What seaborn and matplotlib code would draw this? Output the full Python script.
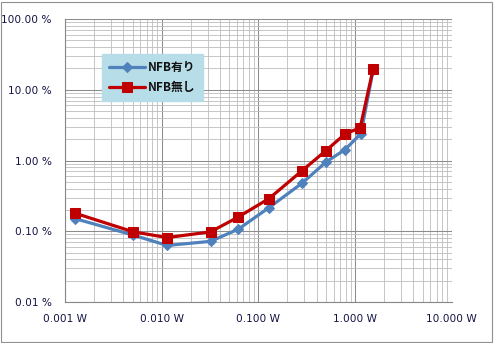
import matplotlib
matplotlib.use("Agg")
import matplotlib.pyplot as plt
from matplotlib.patches import Rectangle
from matplotlib.ticker import LogLocator, FuncFormatter, NullFormatter
import numpy as np
import pandas as pd
import seaborn as sns

# Output power (W) and distortion (%) for each series
power_nfb_on = [0.00127, 0.0051, 0.0114, 0.032, 0.062, 0.129, 0.284, 0.50, 0.79, 1.15, 1.54]
thd_nfb_on = [0.151, 0.088, 0.063, 0.072, 0.107, 0.216, 0.48, 0.95, 1.43, 2.4, 19.0]

power_nfb_off = [0.00127, 0.0051, 0.0114, 0.032, 0.062, 0.129, 0.284, 0.50, 0.79, 1.13, 1.54]
thd_nfb_off = [0.18, 0.098, 0.0815, 0.098, 0.159, 0.29, 0.72, 1.38, 2.38, 2.9, 19.8]

series_names = ["NFB有り", "NFB無し"]
x_ticks = [0.001, 0.01, 0.1, 1, 10]
y_ticks = [0.01, 0.1, 1, 10, 100]

sns.set_theme(style="white")
plt.rcParams["font.family"] = ["DejaVu Sans"]

text_color = "#141446"

df = pd.concat([
    pd.DataFrame({"power": power_nfb_on, "thd": thd_nfb_on, "series": series_names[0]}),
    pd.DataFrame({"power": power_nfb_off, "thd": thd_nfb_off, "series": series_names[1]}),
], ignore_index=True)

fig = plt.figure(figsize=(4.94, 3.43), dpi=100)
fig.patch.set_facecolor("white")
fig.patches.append(Rectangle((0.003, 0.004), 0.993, 0.991, transform=fig.transFigure,
                             fill=False, edgecolor="#909090", linewidth=0.8))

ax = fig.add_axes([0.1316, 0.1195, 0.7828, 0.8251])
ax.set_xscale("log")
ax.set_yscale("log")

styles = {
    series_names[0]: dict(color="#4F81BD", marker="D", markersize=5.5),
    series_names[1]: dict(color="#C00000", marker="s", markersize=7.5),
}
for name in series_names:
    sub = df[df["series"] == name]
    st = styles[name]
    sns.lineplot(data=sub, x="power", y="thd", ax=ax, sort=False, label=name,
                 color=st["color"], marker=st["marker"], markersize=st["markersize"],
                 markeredgecolor=st["color"], linewidth=2.3, estimator=None)

ax.set_xticks(x_ticks)
ax.set_yticks(y_ticks)
ax.xaxis.set_minor_locator(LogLocator(base=10, subs=np.arange(2, 10), numticks=20))
ax.yaxis.set_minor_locator(LogLocator(base=10, subs=np.arange(2, 10), numticks=20))
ax.xaxis.set_major_formatter(FuncFormatter(lambda v, p: f"{v:.3f} W"))
ax.yaxis.set_major_formatter(FuncFormatter(lambda v, p: f"{v:.2f} %"))
ax.xaxis.set_minor_formatter(NullFormatter())
ax.yaxis.set_minor_formatter(NullFormatter())
ax.set_xlim(0.001, 10)
ax.set_ylim(0.01, 100)

ax.grid(True, which="major", color="#8c8c8c", linewidth=0.75)
ax.grid(True, which="minor", color="#bdbdbd", linewidth=0.6)
ax.set_axisbelow(True)

for side in ["top", "right"]:
    ax.spines[side].set_visible(False)
for side in ["left", "bottom"]:
    ax.spines[side].set_color("#868686")
    ax.spines[side].set_linewidth(0.8)

ax.tick_params(axis="both", which="major", direction="out", length=3.5, width=0.8,
               color="#868686", labelcolor=text_color, labelsize=7.6)
ax.tick_params(axis="x", which="major", pad=5)
ax.tick_params(axis="y", which="major", pad=6)
ax.tick_params(axis="both", which="minor", length=0)
ax.set_xlabel("")
ax.set_ylabel("")

leg = ax.legend(loc="upper left", bbox_to_anchor=(0.096, 0.876), borderaxespad=0,
                frameon=True, fancybox=False, facecolor="#B7DDE8", edgecolor="#B7DDE8",
                framealpha=1.0, handlelength=3.0, handletextpad=0.3, labelspacing=0.55,
                borderpad=0.6, prop={"family": ["Noto Sans CJK JP", "DejaVu Sans"],
                                     "weight": "bold", "size": 8.5})
for t in leg.get_texts():
    t.set_color("#111111")

fig.savefig("out.png", dpi=100, facecolor="white")
